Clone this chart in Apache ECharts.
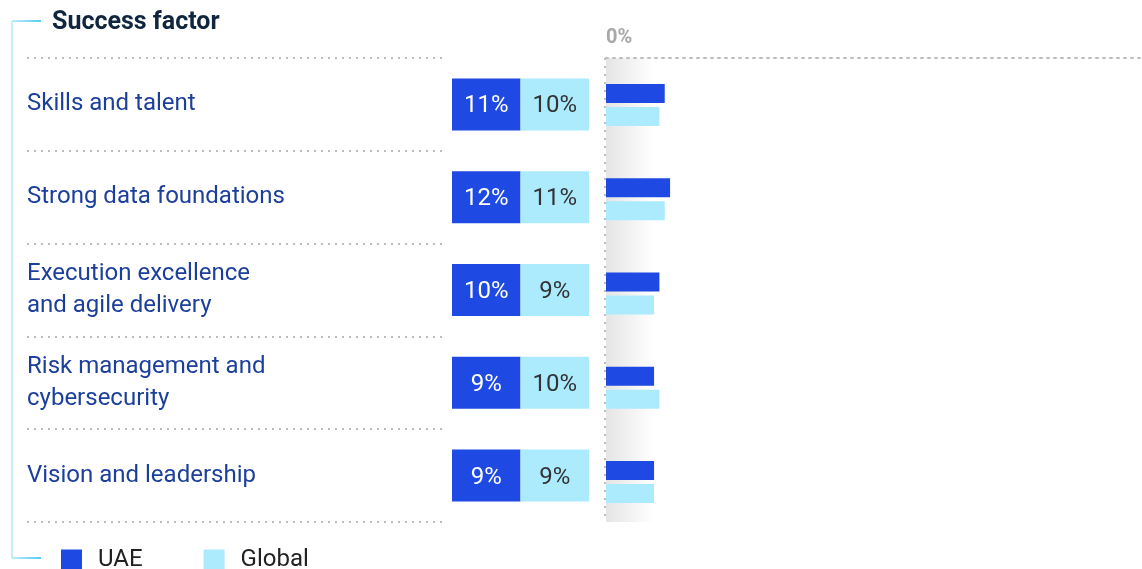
<!DOCTYPE html>
<html>
<head>
<meta charset="utf-8">
<script src="https://cdn.jsdelivr.net/npm/echarts@6/dist/echarts.min.js"></script>
<style>
  html, body { margin: 0; padding: 0; background: #fff; }
  #chart { width: 1142px; height: 569px; }
</style>
</head>
<body>
<div id="chart"></div>
<script>
const categories = [
  'Skills and talent',
  'Strong data foundations',
  'Execution excellence\nand agile delivery',
  'Risk management and\ncybersecurity',
  'Vision and leadership'
];
const uae = [11, 12, 10, 9, 9];
const globalVals = [10, 11, 9, 10, 9];
const seriesNames = ['UAE', 'Global'];
const axisTickLabels = ['0%'];

const C_UAE = '#1e49e2';
const C_GLOBAL = '#aceafd';
const FONT = 'Roboto, "Liberation Sans", sans-serif';
const dotted = { color: '#bdbdbd', width: 2, type: [2, 5] };

const chart = echarts.init(document.getElementById('chart'), null, { renderer: 'canvas' });

const option = {
  animation: false,
  textStyle: { fontFamily: FONT },
  title: {
    text: 'Success factor',
    left: 52, top: 10, padding: 0,
    textStyle: { fontSize: 25, fontWeight: 'bold', color: '#10263f', fontFamily: FONT }
  },
  legend: {
    data: seriesNames,
    left: 61, top: 548,
    padding: 0,
    itemWidth: 21, itemHeight: 21,
    itemGap: 61,
    icon: 'rect',
    textStyle: { fontSize: 24, color: '#222', padding: [6, 0, 0, 11], fontFamily: FONT }
  },
  grid: [
    { left: 606, top: 58, width: 534, height: 471 },
    { left: 452, top: 58, width: 137, height: 464 },
    { left: 27, top: 58, width: 416, height: 464 }
  ],
  xAxis: [
    {
      gridIndex: 0, type: 'value', min: 0, max: 100, interval: 100, position: 'top',
      axisLine: { show: true, lineStyle: dotted },
      axisTick: { show: false },
      splitLine: { show: false },
      axisLabel: {
        showMaxLabel: false, align: 'left', margin: 10,
        color: '#a8a8a8', fontSize: 20, fontWeight: 'bold',
        formatter: (v) => axisTickLabels[0]
      }
    },
    { gridIndex: 1, type: 'value', min: 0, max: 2, show: false },
    { gridIndex: 2, type: 'value', min: 0, max: 1, show: false }
  ],
  yAxis: [
    {
      gridIndex: 0, type: 'category', data: categories, inverse: true,
      axisLine: { show: false }, axisTick: { show: false }, axisLabel: { show: false },
      splitLine: { show: false }
    },
    {
      gridIndex: 1, type: 'category', data: categories, inverse: true,
      axisLine: { show: false }, axisTick: { show: false },
      splitLine: { show: false },
      axisLabel: {
        align: 'left', margin: 425, fontSize: 24, lineHeight: 32,
        color: '#1c3f9b', fontFamily: FONT, padding: [5, 0, 0, 0]
      }
    },
    {
      gridIndex: 2, type: 'category', data: categories, inverse: true,
      axisLine: { show: false }, axisTick: { show: false }, axisLabel: { show: false },
      splitLine: { show: true, lineStyle: dotted }
    }
  ],
  graphic: [
    {
      type: 'rect', z: -1,
      shape: { x: 606, y: 58, width: 48, height: 464 },
      style: {
        fill: new echarts.graphic.LinearGradient(0, 0, 1, 0, [
          { offset: 0, color: 'rgba(0,0,0,0.10)' },
          { offset: 1, color: 'rgba(0,0,0,0)' }
        ])
      }
    },
    {
      type: 'line', z: 5,
      shape: { x1: 605, y1: 58, x2: 605, y2: 522 },
      style: { stroke: '#bdbdbd', lineWidth: 2, lineDash: [2, 6] }
    },
    {
      type: 'polyline',
      shape: { points: [[12, 558], [12, 21]] },
      style: { stroke: '#b4e9fb', lineWidth: 1.5, fill: null }
    },
    {
      type: 'line',
      shape: { x1: 12, y1: 21, x2: 41, y2: 21 },
      style: {
        lineWidth: 1.5,
        stroke: new echarts.graphic.LinearGradient(0, 0, 1, 0, [
          { offset: 0, color: '#b4e9fb' }, { offset: 1, color: '#12b8f0' }
        ])
      }
    },
    {
      type: 'line',
      shape: { x1: 12, y1: 558, x2: 41, y2: 558 },
      style: {
        lineWidth: 1.5,
        stroke: new echarts.graphic.LinearGradient(0, 0, 1, 0, [
          { offset: 0, color: '#b4e9fb' }, { offset: 1, color: '#12b8f0' }
        ])
      }
    }
  ],
  series: [
    {
      name: seriesNames[0], type: 'bar', xAxisIndex: 0, yAxisIndex: 0,
      data: uae, barWidth: 19, barGap: '21%',
      itemStyle: { color: C_UAE }
    },
    {
      name: seriesNames[1], type: 'bar', xAxisIndex: 0, yAxisIndex: 0,
      data: globalVals, barWidth: 19, barGap: '21%',
      itemStyle: { color: C_GLOBAL }
    },
    {
      name: seriesNames[0], type: 'bar', xAxisIndex: 1, yAxisIndex: 1,
      stack: 'box', barWidth: 52,
      data: uae.map(() => 1),
      itemStyle: { color: C_UAE },
      label: {
        show: true, position: 'inside', fontSize: 24, color: '#ffffff', fontFamily: FONT,
        offset: [0, 2],
        formatter: (p) => uae[p.dataIndex] + '%'
      }
    },
    {
      name: seriesNames[1], type: 'bar', xAxisIndex: 1, yAxisIndex: 1,
      stack: 'box', barWidth: 52,
      data: globalVals.map(() => 1),
      itemStyle: { color: C_GLOBAL },
      label: {
        show: true, position: 'inside', fontSize: 24, color: '#333333', fontFamily: FONT,
        offset: [0, 2],
        formatter: (p) => globalVals[p.dataIndex] + '%'
      }
    }
  ]
};
chart.setOption(option);
</script>
</body>
</html>
